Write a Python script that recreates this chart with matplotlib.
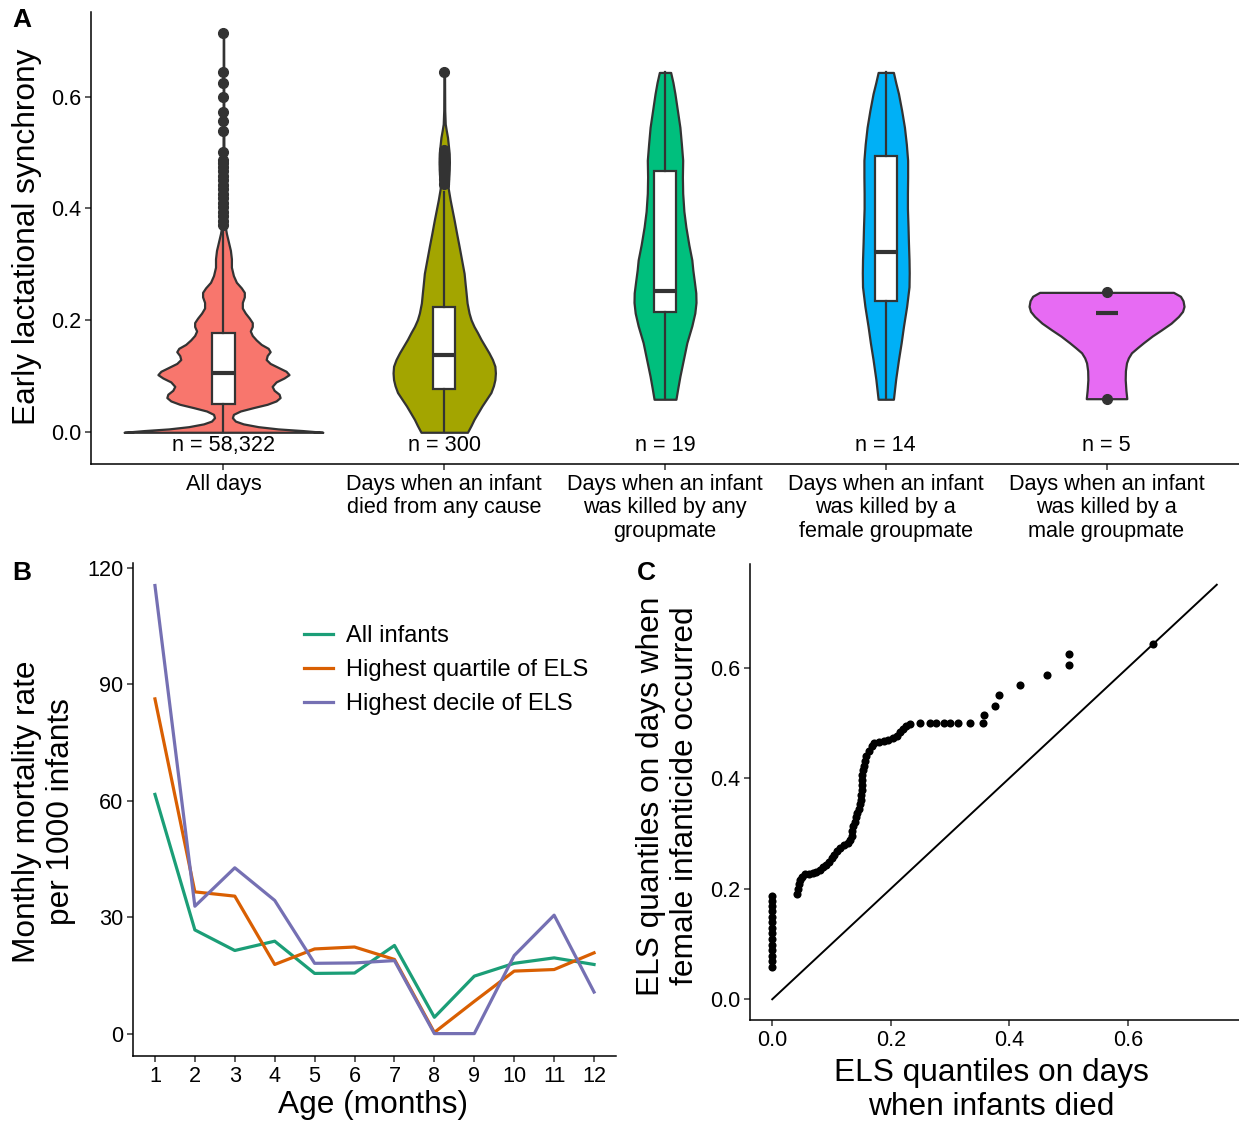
import matplotlib
matplotlib.use("Agg")
import matplotlib.pyplot as plt
import numpy as np

plt.rcParams['font.family'] = ['Liberation Sans', 'DejaVu Sans']

# ---------------- Panel A data ----------------
groups = ["All days", "Days when an infant\ndied from any cause",
          "Days when an infant\nwas killed by any\ngroupmate",
          "Days when an infant\nwas killed by a\nfemale groupmate",
          "Days when an infant\nwas killed by a\nmale groupmate"]
n_labels = ["n = 58,322", "n = 300", "n = 19", "n = 14", "n = 5"]
violin_colors = ["#F8766D", "#A3A500", "#00BF7D", "#00B0F6", "#E76BF3"]

# violin outlines: value levels and relative half-widths
v1_y = [0.000, 0.003, 0.006, 0.010, 0.015, 0.020, 0.026, 0.032, 0.038, 0.044, 0.050, 0.056,
        0.062, 0.068, 0.075, 0.082, 0.090, 0.097, 0.103, 0.109, 0.116, 0.123, 0.130, 0.137,
        0.144, 0.150, 0.157, 0.165, 0.173, 0.181, 0.189, 0.196, 0.204, 0.213, 0.222, 0.232,
        0.242, 0.250, 0.258, 0.268, 0.280, 0.295, 0.310, 0.325, 0.340, 0.355, 0.370, 0.400,
        0.500, 0.714]
v1_w = [1.00, 0.80, 0.55, 0.35, 0.20, 0.12, 0.09, 0.10, 0.17, 0.30, 0.44, 0.53,
        0.57, 0.56, 0.51, 0.49, 0.53, 0.61, 0.66, 0.63, 0.55, 0.47, 0.43, 0.44,
        0.47, 0.45, 0.38, 0.33, 0.29, 0.27, 0.29, 0.29, 0.26, 0.22, 0.19, 0.19,
        0.21, 0.21, 0.18, 0.13, 0.10, 0.08, 0.08, 0.07, 0.05, 0.03, 0.015, 0.008,
        0.004, 0.002]
v2_y = [0.000, 0.012, 0.023, 0.035, 0.047, 0.059, 0.071, 0.083, 0.094, 0.106, 0.118, 0.130,
        0.142, 0.154, 0.166, 0.178, 0.189, 0.201, 0.213, 0.231, 0.249, 0.266, 0.284, 0.308,
        0.332, 0.355, 0.379, 0.397, 0.415, 0.436, 0.452, 0.468, 0.483, 0.498, 0.512, 0.527,
        0.540, 0.551, 0.575, 0.643]
v2_w = [0.234, 0.27, 0.30, 0.34, 0.38, 0.425, 0.47, 0.495, 0.51, 0.515, 0.51, 0.485,
        0.45, 0.41, 0.37, 0.335, 0.30, 0.27, 0.25, 0.23, 0.22, 0.21, 0.20, 0.175,
        0.15, 0.125, 0.10, 0.08, 0.06, 0.04, 0.045, 0.05, 0.052, 0.05, 0.042, 0.033,
        0.02, 0.01, 0.005, 0.003]
v3_y = [0.059, 0.080, 0.100, 0.130, 0.160, 0.190, 0.213, 0.232, 0.249, 0.270, 0.290, 0.308,
        0.335, 0.367, 0.395, 0.427, 0.456, 0.486, 0.515, 0.545, 0.575, 0.605, 0.625, 0.643]
v3_w = [0.11, 0.13, 0.15, 0.185, 0.22, 0.27, 0.30, 0.312, 0.31, 0.295, 0.28, 0.27,
        0.24, 0.21, 0.19, 0.178, 0.175, 0.178, 0.165, 0.15, 0.125, 0.10, 0.08, 0.057]
v4_y = [0.059, 0.095, 0.130, 0.160, 0.189, 0.225, 0.260, 0.285, 0.308, 0.340, 0.367, 0.400,
        0.427, 0.456, 0.486, 0.515, 0.545, 0.575, 0.605, 0.625, 0.643]
v4_w = [0.077, 0.10, 0.128, 0.155, 0.178, 0.21, 0.234, 0.236, 0.234, 0.228, 0.224, 0.218,
        0.218, 0.22, 0.22, 0.207, 0.188, 0.16, 0.128, 0.10, 0.077]
v5_y = [0.060, 0.075, 0.094, 0.110, 0.124, 0.133, 0.142, 0.151, 0.160, 0.172, 0.183, 0.195,
        0.207, 0.216, 0.225, 0.235, 0.243, 0.250]
v5_w = [0.204, 0.195, 0.188, 0.19, 0.201, 0.22, 0.251, 0.31, 0.372, 0.46, 0.553, 0.65,
        0.724, 0.765, 0.78, 0.77, 0.744, 0.674]

# box statistics
box_q1 = [0.051, 0.078, 0.215, 0.234, 0.214]
box_med = [0.106, 0.138, 0.253, 0.322, 0.214]
box_q3 = [0.178, 0.224, 0.466, 0.493, 0.214]
box_wlo = [0.000, 0.000, 0.059, 0.059, 0.214]
box_whi = [0.367, 0.430, 0.643, 0.643, 0.214]
out1 = [0.370, 0.378, 0.386, 0.394, 0.402, 0.410, 0.418, 0.426, 0.434, 0.442, 0.450,
        0.458, 0.466, 0.474, 0.482, 0.486, 0.500, 0.538, 0.556, 0.572, 0.600, 0.625,
        0.643, 0.714]
out2 = [0.443, 0.452, 0.462, 0.471, 0.480, 0.490, 0.500, 0.505, 0.643]
out3 = []
out4 = []
out5 = [0.059, 0.250]

# ---------------- Panel B data ----------------
months = [1, 2, 3, 4, 5, 6, 7, 8, 9, 10, 11, 12]
all_infants = [61.6, 26.7, 21.4, 23.8, 15.5, 15.6, 22.7, 4.2, 14.8, 18.1, 19.5, 17.8]
top_quartile = [86.2, 36.5, 35.4, 17.8, 21.8, 22.3, 19.1, 0.3, 8.3, 16.1, 16.5, 20.8]
top_decile = [115.4, 32.8, 42.7, 34.3, 18.1, 18.2, 18.8, 0.0, 0.0, 20.1, 30.5, 10.7]
series_names = ["All infants", "Highest quartile of ELS", "Highest decile of ELS"]
series_colors = ["#1B9E77", "#D95F02", "#7570B3"]

# ---------------- Panel C data ----------------
qq_x = [0]*14 + [
    0.042, 0.044, 0.045, 0.047, 0.051, 0.056, 0.062, 0.068, 0.074, 0.080, 0.085, 0.090,
    0.095, 0.100, 0.105, 0.110, 0.115, 0.121, 0.127, 0.132, 0.134, 0.135, 0.137, 0.139,
    0.141, 0.143, 0.146, 0.148, 0.149, 0.150, 0.151, 0.151, 0.151, 0.152, 0.153, 0.155,
    0.157, 0.159, 0.163, 0.168, 0.172, 0.180, 0.188, 0.196, 0.204, 0.210, 0.215, 0.220,
    0.226, 0.233, 0.249, 0.266, 0.277, 0.289, 0.300, 0.314, 0.334, 0.355, 0.358, 0.376,
    0.382, 0.418, 0.463, 0.501, 0.501, 0.643]
qq_y = [0.059, 0.069, 0.079, 0.089, 0.099, 0.109, 0.119, 0.129, 0.139, 0.149, 0.159, 0.169,
        0.178, 0.186,
        0.191, 0.200, 0.208, 0.216, 0.222, 0.226, 0.227, 0.228, 0.230, 0.234, 0.239, 0.243,
        0.249, 0.255, 0.261, 0.268, 0.274, 0.279, 0.283, 0.288, 0.296, 0.305, 0.313, 0.321,
        0.329, 0.337, 0.345, 0.353, 0.361, 0.370, 0.379, 0.388, 0.397, 0.405, 0.414, 0.422,
        0.431, 0.440, 0.450, 0.459, 0.464, 0.465, 0.467, 0.469, 0.472, 0.477, 0.483, 0.489,
        0.494, 0.498, 0.500, 0.500, 0.500, 0.500, 0.500, 0.500, 0.500, 0.500, 0.514, 0.530,
        0.550, 0.568, 0.586, 0.605, 0.624, 0.642]
ref_line = [0.0, 0.75]

# ---------------- Figure ----------------
W, H = 1239, 1122
fig = plt.figure(figsize=(W/100, H/100), dpi=100)

def ax_px(l, t, r, b):
    return fig.add_axes([l/W, 1-b/H, (r-l)/W, (b-t)/H])

DARK = "#333333"
TICK_FS = 15.6
TITLE_FS = 22.8
LW_AX = 1.1

def style(ax):
    for s in ['top', 'right']:
        ax.spines[s].set_visible(False)
    for s in ['left', 'bottom']:
        ax.spines[s].set_linewidth(LW_AX)
        ax.spines[s].set_color('black')
    ax.tick_params(direction='out', length=4, width=LW_AX, color=DARK,
                   labelsize=TICK_FS, labelcolor='black', pad=3)

# Panel A
axA = ax_px(91, 12, 1239, 464)
style(axA)
vy = [v1_y, v2_y, v3_y, v4_y, v5_y]
vw = [v1_w, v2_w, v3_w, v4_w, v5_w]
for i in range(5):
    c = i + 1
    yy = np.array(vy[i]); ww = np.array(vw[i]) * 0.45
    axA.fill_betweenx(yy, c - ww, c + ww, facecolor=violin_colors[i],
                      edgecolor=DARK, linewidth=1.6, zorder=1)
outs = [out1, out2, out3, out4, out5]
stats = []
for i in range(5):
    stats.append(dict(med=box_med[i], q1=box_q1[i], q3=box_q3[i],
                      whislo=box_wlo[i], whishi=box_whi[i], fliers=outs[i]))
axA.bxp(stats, positions=[1, 2, 3, 4, 5], widths=0.1, showcaps=False,
        patch_artist=True, manage_ticks=False, zorder=2,
        boxprops=dict(facecolor='white', edgecolor=DARK, linewidth=1.6),
        medianprops=dict(color=DARK, linewidth=3),
        whiskerprops=dict(color=DARK, linewidth=1.6),
        flierprops=dict(marker='o', markerfacecolor=DARK, markeredgecolor=DARK,
                        markersize=7))
for i in range(5):
    axA.text(i + 1, -0.024, n_labels[i], ha='center', va='center',
             fontsize=TICK_FS, color='black')
axA.set_xlim(0.4, 5.6)
axA.set_ylim(-0.0567, 0.751)
axA.set_yticks([0.0, 0.2, 0.4, 0.6])
axA.set_yticklabels(["0.0", "0.2", "0.4", "0.6"])
axA.set_xticks([1, 2, 3, 4, 5])
axA.set_xticklabels(groups, linespacing=1.17, va='top')
fig.text(27/W, 1-237/H, "Early lactational synchrony", rotation=90,
         ha='center', va='center', fontsize=TITLE_FS)

# Panel B
axB = ax_px(133, 563, 616, 1056)
style(axB)
for s, nm, col in zip([all_infants, top_quartile, top_decile], series_names, series_colors):
    axB.plot(months, s, color=col, linewidth=2.3, label=nm)
axB.set_xlim(0.45, 12.55)
axB.set_ylim(-5.77, 121.2)
axB.set_xticks(months)
axB.set_yticks([0, 30, 60, 90, 120])
leg = axB.legend(loc='upper left', bbox_to_anchor=(0.355, 0.874), frameon=False,
                 fontsize=17, handlelength=1.2, handletextpad=0.57, labelspacing=0.51,
                 borderpad=0, borderaxespad=0)
fig.text(373/W, 1-1105/H, "Age (months)", ha='center', va='center', fontsize=TITLE_FS)
fig.text(44/W, 1-812/H, "Monthly mortality rate\nper 1000 infants", rotation=90,
         ha='center', va='center', fontsize=TITLE_FS, linespacing=1.14)

# Panel C
axC = ax_px(750, 564, 1239, 1020)
style(axC)
axC.plot(ref_line, ref_line, color='black', linewidth=1.4)
axC.scatter(qq_x, qq_y, s=34, color='black', zorder=3, linewidths=0)
axC.set_xlim(-0.0375, 0.7875)
axC.set_ylim(-0.0375, 0.7875)
axC.set_xticks([0.0, 0.2, 0.4, 0.6])
axC.set_xticklabels(["0.0", "0.2", "0.4", "0.6"])
axC.set_yticks([0.0, 0.2, 0.4, 0.6])
axC.set_yticklabels(["0.0", "0.2", "0.4", "0.6"])
fig.text(991/W, 1-1090/H, "ELS quantiles on days\nwhen infants died", ha='center',
         va='center', fontsize=TITLE_FS, linespacing=1.14)
fig.text(668/W, 1-796/H, "ELS quantiles on days when\nfemale infanticide occurred",
         rotation=90, ha='center', va='center', fontsize=TITLE_FS, linespacing=1.14)

# panel letters
for lab, x, y in [("A", 12, 20), ("B", 12, 573), ("C", 637, 573)]:
    fig.text(x/W, 1-y/H, lab, ha='left', va='center', fontsize=19, fontweight='bold')

fig.savefig("out.png", dpi=100)
